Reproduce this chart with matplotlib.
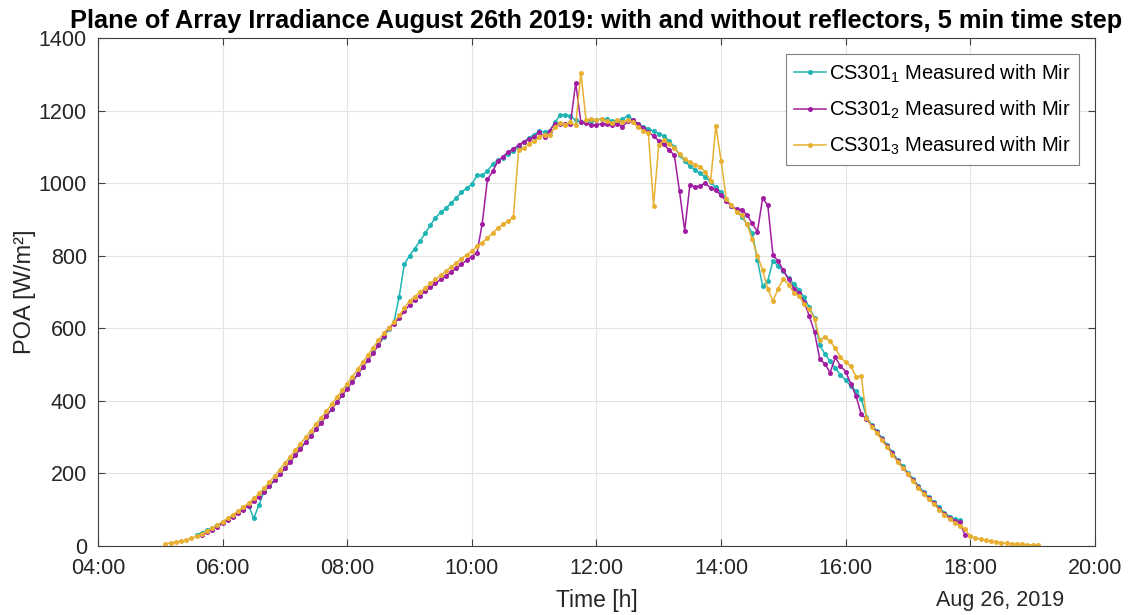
import numpy as np
import pandas as pd
import matplotlib
matplotlib.use('Agg')
import matplotlib.pyplot as plt
import matplotlib.dates as mdates

nan = np.nan

# 5 min samples from 05:00 to 19:05
time = pd.date_range('2019-08-26 05:00', '2019-08-26 19:05', freq='5min')

# one row per hour (xx:00 ... xx:55)
cs301_1 = [
    nan, nan, nan, nan, nan, nan, nan, 30, 35, 42, 49, 57,                       # 05
    64, 73, 82, 92, 102, 110, 75, 112, 150, 165, 181, 197,                       # 06
    214, 232, 250, 268, 286, 304, 322, 340, 358, 377, 396, 415,                  # 07
    434, 453, 473, 493, 513, 533, 553, 575, 597, 617, 686, 776,                  # 08
    800, 819, 840, 861, 884, 904, 920, 930, 945, 959, 975, 986,                  # 09
    997, 1021, 1021, 1034, 1052, 1064, 1070, 1080, 1088, 1100, 1114, 1125,       # 10
    1134, 1144, 1141, 1145, 1168, 1188, 1188, 1185, 1173, 1168, 1170, 1172,      # 11
    1174, 1178, 1176, 1172, 1170, 1176, 1186, 1175, 1162, 1156, 1150, 1143,      # 12
    1136, 1130, 1116, 1100, 1078, 1060, 1047, 1036, 1027, 1016, 1003, 988,       # 13
    975, 957, 938, 923, 907, 887, 862, 788, 716, 730, 786, 770,                  # 14
    757, 738, 722, 706, 685, 657, 628, 552, 529, 508, 490, 471,                  # 15
    456, 440, 426, 405, 355, 333, 316, 296, 277, 257, 236, 218,                  # 16
    201, 183, 165, 148, 133, 120, 105, 91, 80, 73, 70, nan,                      # 17
    nan, nan, nan, nan, nan, nan, nan, nan, nan, nan, nan, nan,                  # 18
    nan, nan,                                                                    # 19
]

cs301_2 = [
    nan, nan, nan, nan, nan, nan, nan, nan, 30, 37, 44, 52,                      # 05
    61, 70, 79, 89, 99, 110, 122, 135, 149, 164, 180, 196,                       # 06
    213, 231, 249, 267, 285, 303, 321, 339, 357, 376, 395, 414,                  # 07
    433, 452, 472, 492, 512, 532, 552, 578, 600, 611, 628, 646,                  # 08
    664, 677, 689, 701, 712, 723, 734, 744, 755, 765, 776, 787,                  # 09
    797, 808, 888, 1010, 1032, 1060, 1073, 1086, 1094, 1105, 1114, 1121,         # 10
    1127, 1141, 1127, 1145, 1164, 1164, 1164, 1164, 1277, 1168, 1166, 1161,      # 11
    1161, 1164, 1164, 1159, 1164, 1156, 1170, 1175, 1164, 1152, 1141, 1130,      # 12
    1116, 1107, 1091, 1077, 977, 869, 996, 989, 993, 1000, 986, 980,             # 13
    966, 950, 937, 928, 927, 912, 889, 866, 958, 939, 801, 785,                  # 14
    759, 734, 709, 697, 672, 633, 589, 515, 501, 477, 519, 495,                  # 15
    480, 446, 412, 362, 349, 330, 313, 293, 274, 254, 233, 215,                  # 16
    198, 180, 162, 145, 130, 117, 101, 87, 76, 68, 64, 28,                       # 17
    nan, nan, nan, nan, nan, nan, nan, nan, nan, nan, nan, nan,                  # 18
    nan, nan,                                                                    # 19
]

cs301_3 = [
    nan, 5, 7, 9, 12, 15, 20, 25, 32, 40, 47, 56,                                # 05
    66, 75, 85, 95, 106, 117, 130, 144, 159, 175, 192, 209,                      # 06
    227, 245, 263, 281, 299, 317, 335, 353, 371, 390, 409, 428,                  # 07
    447, 466, 486, 506, 526, 546, 566, 585, 601, 616, 635, 655,                  # 08
    675, 687, 699, 711, 723, 735, 746, 757, 768, 780, 791, 802,                  # 09
    812, 826, 836, 848, 862, 876, 886, 895, 906, 1090, 1097, 1109,               # 10
    1115, 1127, 1134, 1132, 1155, 1166, 1161, 1168, 1159, 1305, 1173, 1177,      # 11
    1173, 1177, 1170, 1165, 1173, 1168, 1175, 1168, 1155, 1145, 1139, 938,       # 12
    1105, 1118, 1108, 1097, 1080, 1066, 1058, 1051, 1044, 1030, 1005, 1158,      # 13
    1062, 957, 939, 921, 912, 886, 845, 800, 760, 707, 675, 709,                 # 14
    736, 720, 698, 689, 666, 652, 626, 568, 575, 563, 545, 520,                  # 15
    505, 495, 466, 468, 352, 328, 310, 290, 271, 251, 231, 213,                  # 16
    196, 178, 160, 143, 128, 114, 99, 85, 73, 63, 55, 45,                        # 17
    25, 21, 18, 15, 12, 10, 8, 6, 5, 4, 3, 2,                                    # 18
    1, 1,                                                                        # 19
]

labels = ['CS301$_1$ Measured with Mir',
          'CS301$_2$ Measured with Mir',
          'CS301$_3$ Measured with Mir']
colors = ['#1fb4b4', '#a01ca0', '#e8b032']

plt.rcParams['font.family'] = ['Liberation Sans', 'DejaVu Sans']
plt.rcParams['mathtext.default'] = 'regular'

fig = plt.figure(figsize=(11.29, 6.15), dpi=100)
ax = fig.add_axes([0.0868, 0.113, 0.883, 0.825])

for vals, lab, col in zip([cs301_1, cs301_2, cs301_3], labels, colors):
    ax.plot(time, vals, '-o', color=col, label=lab, linewidth=1.1,
            markersize=3.6, markeredgewidth=0)

ax.set_xlim(pd.Timestamp('2019-08-26 04:00'), pd.Timestamp('2019-08-26 20:00'))
ax.set_ylim(0, 1400)
ax.xaxis.set_major_locator(mdates.HourLocator(byhour=range(0, 24, 2)))
ax.xaxis.set_major_formatter(mdates.DateFormatter('%H:%M'))
ax.set_yticks(range(0, 1401, 200))

ax.grid(True, color='#e3e3e3', linewidth=0.8)
ax.set_axisbelow(True)
for s in ax.spines.values():
    s.set_color('#404040')
    s.set_linewidth(0.8)
ax.tick_params(direction='in', top=True, right=True, length=5, width=0.8,
               labelsize=15.5, colors='#404040', labelcolor='#262626')
ax.tick_params(axis='x', pad=9)
ax.tick_params(axis='y', pad=8)

ax.set_title('Plane of Array Irradiance August 26th 2019: with and without reflectors, 5 min time step',
             fontsize=18.3, fontweight='bold', pad=7)
ax.set_xlabel('Time [h]', fontsize=16.5, color='#262626', labelpad=7)
ax.set_ylabel('POA [W/m²]', fontsize=17, color='#262626', labelpad=2)
ax.text(0.905, -0.108, 'Aug 26, 2019', transform=ax.transAxes, ha='center', va='center',
        fontsize=15.5, color='#262626')

leg = ax.legend(loc='upper right', fontsize=14.5, fancybox=False, framealpha=1,
                edgecolor='#808080', handlelength=1.6, handletextpad=0.15,
                borderaxespad=0.8, labelspacing=0.7, borderpad=0.4)
leg.get_frame().set_linewidth(0.8)

fig.savefig('out.png', dpi=100)
